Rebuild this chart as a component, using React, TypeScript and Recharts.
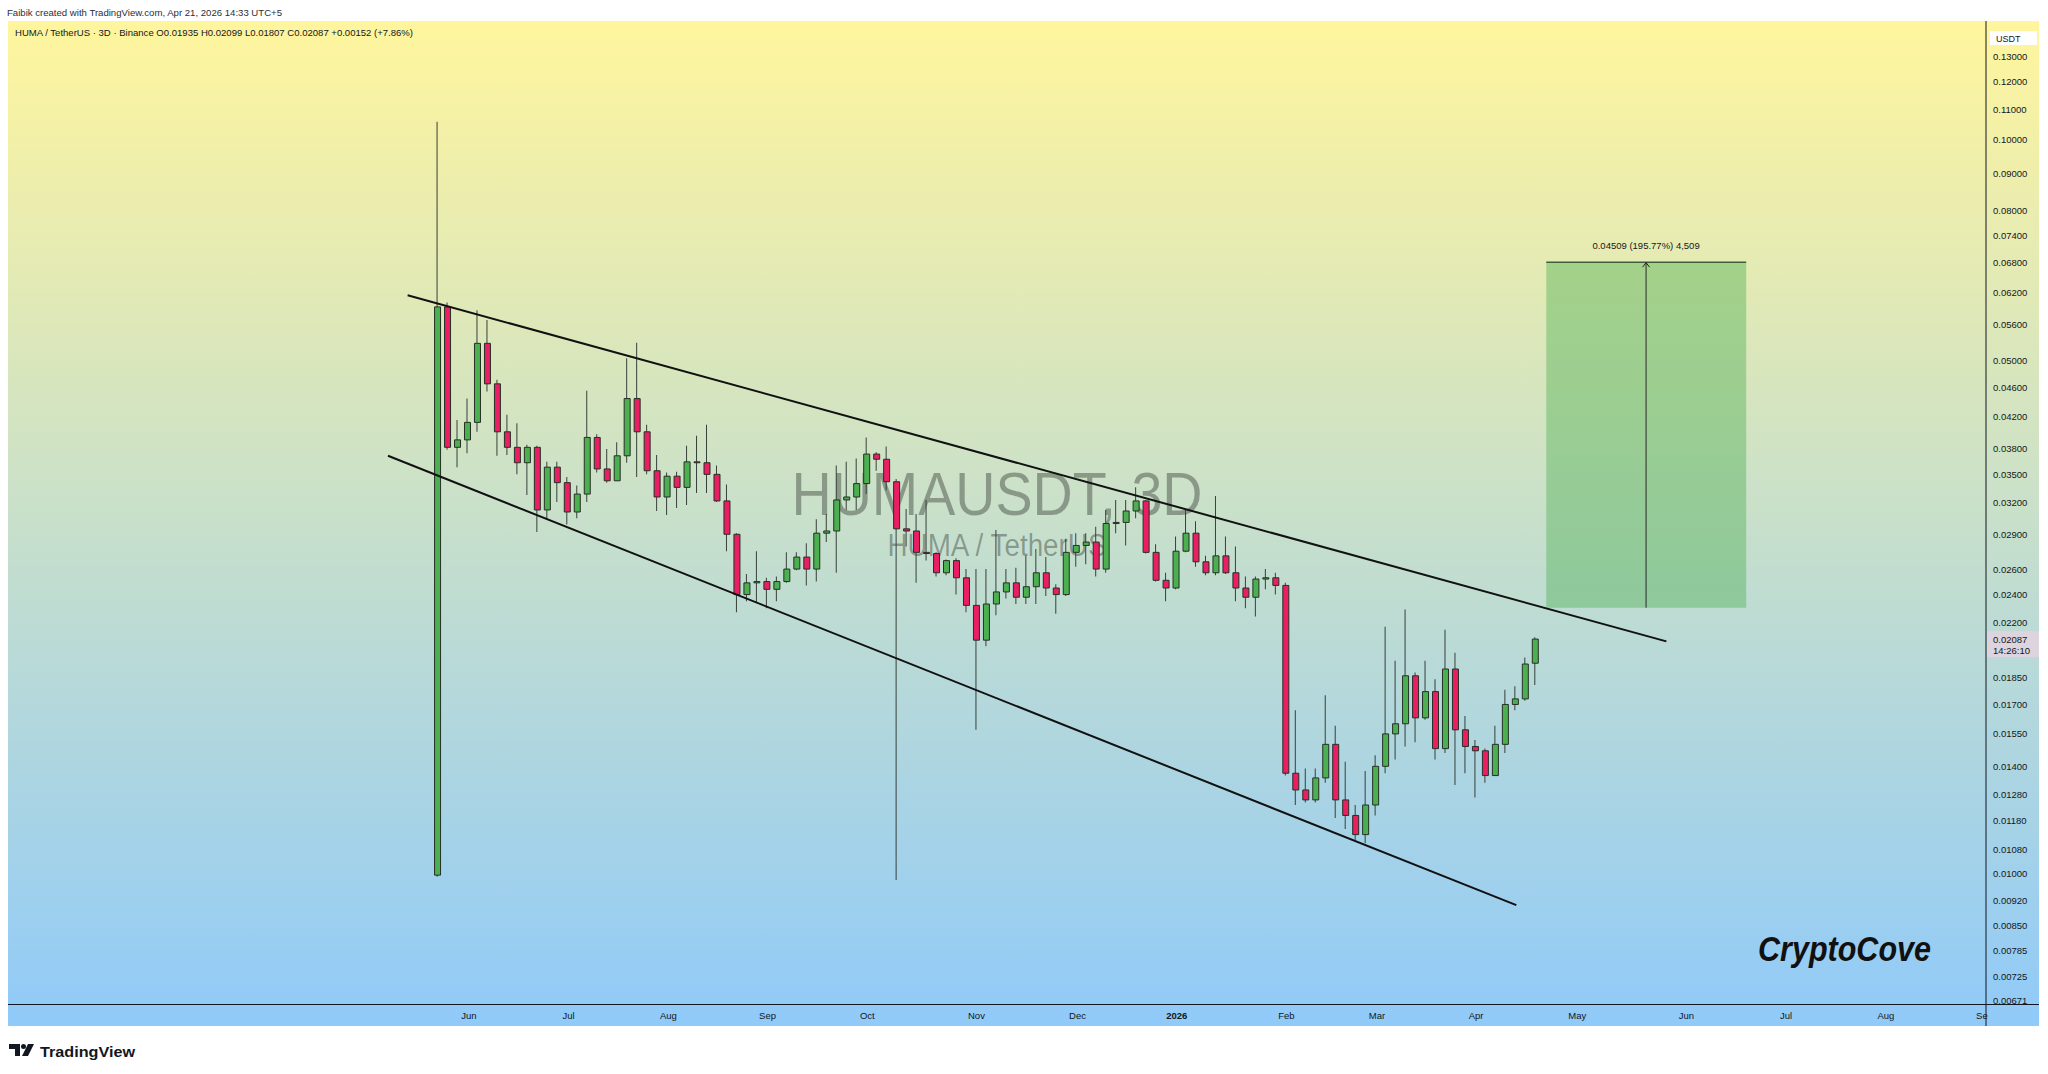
import React from "react";
import {
  ComposedChart,
  Bar,
  XAxis,
  YAxis,
  ReferenceLine,
  ReferenceArea,
  ReferenceDot,
  Cell,
} from "recharts";

const W = 2048;
const H = 1074;
const FONT = "'Liberation Sans', Arial, sans-serif";

// 3D candles, HUMA/USDT (Binance). x = days since 2025-06-01
const FIRST_CANDLE = "2025-05-23";
const STEP_DAYS = 3;

const opens = [
  0.00995, 0.0592, 0.0381, 0.039, 0.0412, 0.0528, 0.0465, 0.04, 0.0381, 0.0363,
  0.0381, 0.0313, 0.0358, 0.0341, 0.0311, 0.0329, 0.0393, 0.0356, 0.0343, 0.0371,
  0.0444, 0.04, 0.0354, 0.0326, 0.0348, 0.0336, 0.0364, 0.0363, 0.035, 0.0322,
  0.029, 0.024, 0.0249, 0.025, 0.0244, 0.025, 0.026, 0.027, 0.026, 0.0291,
  0.0293, 0.0323, 0.0326, 0.034, 0.0373, 0.0367, 0.0342, 0.0295, 0.0293, 0.0274,
  0.0273, 0.0257, 0.0267, 0.0253, 0.0232, 0.0208, 0.0233, 0.0242, 0.0249, 0.0238,
  0.0246, 0.0257, 0.0245, 0.024, 0.0274, 0.028, 0.0283, 0.026, 0.03, 0.0301,
  0.0312, 0.0322, 0.0274, 0.0251, 0.0245, 0.0275, 0.0291, 0.0266, 0.0257, 0.0271,
  0.0257, 0.0245, 0.0238, 0.0252, 0.0253, 0.0247, 0.0137, 0.013, 0.0126, 0.0135,
  0.015, 0.0126, 0.012, 0.0113, 0.0124, 0.014, 0.0155, 0.016, 0.0186, 0.0163,
  0.0177, 0.0148, 0.019, 0.0157, 0.0149, 0.0147, 0.0136, 0.015, 0.017, 0.0173,
  0.01935,
];
const highs = [
  0.1058, 0.06, 0.0415, 0.0444, 0.0586, 0.0568, 0.0471, 0.0422, 0.0411, 0.0384,
  0.0383, 0.0364, 0.0364, 0.0347, 0.0338, 0.0455, 0.0397, 0.0379, 0.0387, 0.0504,
  0.0529, 0.0409, 0.0372, 0.0352, 0.0353, 0.0383, 0.0395, 0.0409, 0.036, 0.0339,
  0.0291, 0.0256, 0.0275, 0.0253, 0.0254, 0.0274, 0.0274, 0.0282, 0.0304, 0.0309,
  0.036, 0.0364, 0.0368, 0.0393, 0.0375, 0.0382, 0.0345, 0.0314, 0.0309, 0.0323,
  0.0274, 0.0268, 0.0269, 0.026, 0.026, 0.026, 0.0294, 0.026, 0.0261, 0.0271,
  0.0277, 0.027, 0.0248, 0.0286, 0.0291, 0.0291, 0.0297, 0.0313, 0.0323, 0.0323,
  0.0336, 0.0323, 0.0281, 0.0257, 0.0288, 0.0313, 0.0302, 0.0271, 0.0327, 0.0288,
  0.0279, 0.0254, 0.0254, 0.026, 0.0257, 0.0249, 0.0167, 0.0139, 0.0139, 0.0175,
  0.0159, 0.0142, 0.0124, 0.0138, 0.0145, 0.0217, 0.0195, 0.0229, 0.0188, 0.0195,
  0.0184, 0.0215, 0.02, 0.0164, 0.0152, 0.0148, 0.0159, 0.0178, 0.018, 0.0197,
  0.02099,
];
const lows = [
  0.0099, 0.0378, 0.0358, 0.0374, 0.04, 0.0454, 0.0371, 0.0372, 0.035, 0.0328,
  0.0292, 0.0304, 0.0321, 0.0299, 0.0305, 0.0321, 0.0352, 0.0341, 0.0343, 0.0363,
  0.0347, 0.035, 0.0312, 0.0308, 0.0315, 0.0318, 0.033, 0.033, 0.0321, 0.0275,
  0.0227, 0.0235, 0.0234, 0.023, 0.0235, 0.0249, 0.0259, 0.0247, 0.025, 0.0283,
  0.0257, 0.0313, 0.0313, 0.0329, 0.0354, 0.0333, 0.0098, 0.0279, 0.0249, 0.0267,
  0.0254, 0.0255, 0.024, 0.0227, 0.0157, 0.0204, 0.0225, 0.0237, 0.0233, 0.0233,
  0.0233, 0.0239, 0.0226, 0.0239, 0.0262, 0.0264, 0.0254, 0.0257, 0.0291, 0.028,
  0.0305, 0.0273, 0.025, 0.0235, 0.0244, 0.0274, 0.0262, 0.0255, 0.0255, 0.0256,
  0.0235, 0.023, 0.0224, 0.0244, 0.024, 0.0136, 0.0124, 0.0125, 0.0125, 0.0133,
  0.0119, 0.0115, 0.0111, 0.011, 0.012, 0.0137, 0.0143, 0.0149, 0.0151, 0.0162,
  0.0143, 0.0146, 0.0132, 0.0137, 0.0127, 0.0133, 0.0136, 0.0146, 0.0167, 0.0172,
  0.01807,
];
const closes = [
  0.0592, 0.0381, 0.039, 0.0412, 0.0528, 0.0465, 0.04, 0.0381, 0.0363, 0.0381,
  0.0313, 0.0358, 0.0341, 0.0311, 0.0329, 0.0393, 0.0356, 0.0343, 0.0371, 0.0444,
  0.04, 0.0354, 0.0326, 0.0348, 0.0336, 0.0364, 0.0363, 0.035, 0.0322, 0.029,
  0.024, 0.0249, 0.025, 0.0244, 0.025, 0.026, 0.027, 0.026, 0.0291, 0.0293,
  0.0323, 0.0326, 0.034, 0.0373, 0.0367, 0.0342, 0.0295, 0.0293, 0.0274, 0.0273,
  0.0257, 0.0267, 0.0253, 0.0232, 0.0208, 0.0233, 0.0242, 0.0249, 0.0238, 0.0246,
  0.0257, 0.0245, 0.024, 0.0274, 0.028, 0.0283, 0.026, 0.03, 0.0301, 0.0312,
  0.0322, 0.0274, 0.0251, 0.0245, 0.0275, 0.0291, 0.0266, 0.0257, 0.0271, 0.0257,
  0.0245, 0.0238, 0.0252, 0.0253, 0.0247, 0.0137, 0.013, 0.0126, 0.0135, 0.015,
  0.0126, 0.012, 0.0113, 0.0124, 0.014, 0.0155, 0.016, 0.0186, 0.0163, 0.0177,
  0.0148, 0.019, 0.0157, 0.0149, 0.0147, 0.0136, 0.015, 0.017, 0.0173, 0.0193,
  0.02087,
];

// time axis label positions (days since 2025-06-01, as placed by the source chart)
const monthTicks = [0.4, 30.4, 60.4, 90.2, 120.2, 153, 183.4, 213.2, 246.2, 273.4, 303.2, 333.6, 366.4, 396.4, 426.4, 456.4];
const monthLabels = ["Jun", "Jul", "Aug", "Sep", "Oct", "Nov", "Dec", "2026", "Feb", "Mar", "Apr", "May", "Jun", "Jul", "Aug", "Se"];

const priceTicks = [
  0.13, 0.12, 0.11, 0.1, 0.09, 0.08, 0.074, 0.068, 0.062, 0.056, 0.05, 0.046, 0.042, 0.038,
  0.035, 0.032, 0.029, 0.026, 0.024, 0.022, 0.0185, 0.017, 0.0155, 0.014, 0.0128, 0.0118,
  0.0108, 0.01, 0.0092, 0.0085, 0.00785, 0.00725, 0.00671,
];

const X_DOMAIN = [-138.13, 456.49];
const Y_DOMAIN = [0.00663, 0.1452];

// drawings (time in days since 2025-06-01, price)
const upperLine = [{ x: -18.0, y: 0.0614 }, { x: 360.4, y: 0.02072 }];
const lowerLine = [{ x: -23.9, y: 0.0371 }, { x: 315.3, y: 0.009055 }];
const target = { x1: 324.3, x2: 384.4, entry: 0.02303, goal: 0.06812, mid: 354.3 };
const targetText = "0.04509 (195.77%) 4,509";
const lastPrice = 0.02087;
const countdown = "14:26:10";

const GREEN = "#4caf50";
const RED = "#e91e63";
const EDGE = "#263026";

const DAY_MS = 86400000;
const ORIGIN = Date.UTC(2025, 5, 1);
const firstDay = (Date.parse(FIRST_CANDLE + "T00:00:00Z") - ORIGIN) / DAY_MS;

const data = opens.map((o, i) => ({
  t: firstDay + i * STEP_DAYS,
  wick: [lows[i], highs[i]],
  body: [Math.min(o, closes[i]), Math.max(o, closes[i])],
  up: closes[i] >= o,
}));

const MonthTick = (props: any) => {
  const { x, payload } = props;
  const idx = monthTicks.indexOf(payload.value);
  const label = monthLabels[idx] ?? "";
  const isLast = idx === monthTicks.length - 1;
  return (
    <text
      x={isLast ? x + 2 : x}
      y={1019}
      textAnchor={isLast ? "end" : "middle"}
      fontSize={9.5}
      fontFamily={FONT}
      fontWeight={label === "2026" ? 700 : 400}
      fill="#131722"
    >
      {label}
    </text>
  );
};

const PriceTick = (props: any) => {
  const { y, payload } = props;
  return (
    <text x={1993} y={y + 3.5} fontSize={9.5} fontFamily={FONT} fill="#131722">
      {Number(payload.value).toFixed(5)}
    </text>
  );
};

const TargetMarker = (props: any) => {
  const { cx, cy } = props;
  return (
    <g>
      <path d={`M${cx - 3.5},${cy + 5} L${cx},${cy + 0.5} L${cx + 3.5},${cy + 5}`} fill="none" stroke="#222" strokeWidth={1} />
      <text x={cx} y={cy - 13} textAnchor="middle" fontSize={9.5} fontFamily={FONT} fill="#131722">
        {targetText}
      </text>
    </g>
  );
};

const LastPriceLabel = (props: any) => {
  const { cx, cy } = props;
  return (
    <g>
      <rect x={cx + 1} y={cy - 8} width={52} height={26} fill="#ddd4de" />
      <text x={cx + 7} y={cy + 3.5} fontSize={9.5} fontFamily={FONT} fill="#131722">
        {lastPrice.toFixed(5)}
      </text>
      <text x={cx + 7} y={cy + 14.5} fontSize={9.5} fontFamily={FONT} fill="#131722">
        {countdown}
      </text>
    </g>
  );
};

export default function App() {
  return (
    <div
      style={{
        position: "absolute",
        left: 0,
        top: 0,
        width: W,
        height: H,
        background: "#ffffff",
        overflow: "hidden",
      }}
    >
      <svg style={{ position: "absolute", left: 0, top: 0 }} width={W} height={H}>
        <defs>
          <linearGradient id="bgGrad" x1="0" y1="0" x2="0" y2="1">
            <stop offset="0" stopColor="#fff59d" />
            <stop offset="1" stopColor="#90caf9" />
          </linearGradient>
        </defs>
        <rect x={8} y={21} width={2031} height={1005} fill="url(#bgGrad)" />
        <text x={997} y={515} textAnchor="middle" fontSize={62} fontFamily={FONT} fill="rgba(0,0,0,0.32)" textLength={411} lengthAdjust="spacingAndGlyphs">
          HUMAUSDT, 3D
        </text>
        <text x={997} y={556} textAnchor="middle" fontSize={31} fontFamily={FONT} fill="rgba(0,0,0,0.32)" textLength={219} lengthAdjust="spacingAndGlyphs">
          HUMA / TetherUS
        </text>
      </svg>

      <div style={{ position: "absolute", left: 0, top: 0 }}>
        <ComposedChart width={W} height={H} data={data} margin={{ top: 21, left: 8, right: 9, bottom: 48 }}>
          <XAxis
            xAxisId="main"
            dataKey="t"
            type="number"
            domain={X_DOMAIN}
            allowDataOverflow
            ticks={monthTicks}
            interval={0}
            tick={<MonthTick />}
            tickLine={false}
            axisLine={false}
            height={21.5}
          />
          <XAxis xAxisId="w" dataKey="t" type="number" domain={X_DOMAIN} allowDataOverflow hide />
          <YAxis
            orientation="right"
            scale="log"
            type="number"
            domain={Y_DOMAIN}
            allowDataOverflow
            ticks={priceTicks}
            interval={0}
            tick={<PriceTick />}
            tickLine={false}
            axisLine={false}
            width={53}
          />

          <ReferenceArea
            xAxisId="main"
            x1={target.x1}
            x2={target.x2}
            y1={target.entry}
            y2={target.goal}
            fill="#4caf50"
            fillOpacity={0.42}
            stroke="none"
            ifOverflow="visible"
          />
          <ReferenceLine
            xAxisId="main"
            segment={[{ x: target.x1, y: target.goal }, { x: target.x2, y: target.goal }]}
            stroke="#3f5f3f"
            strokeWidth={1.5}
            ifOverflow="visible"
          />
          <ReferenceLine
            xAxisId="main"
            segment={[{ x: target.mid, y: target.entry }, { x: target.mid, y: target.goal }]}
            stroke="#2a2a2a"
            strokeWidth={1}
            ifOverflow="visible"
          />

          <Bar xAxisId="w" dataKey="wick" barSize={1} fill="#37403a" isAnimationActive={false} />
          <Bar xAxisId="main" dataKey="body" barSize={6} isAnimationActive={false}>
            {data.map((d, i) => (
              <Cell key={i} fill={d.up ? GREEN : RED} stroke={EDGE} strokeWidth={1} />
            ))}
          </Bar>

          <ReferenceLine xAxisId="main" segment={upperLine} stroke="#111111" strokeWidth={2} ifOverflow="visible" />
          <ReferenceLine xAxisId="main" segment={lowerLine} stroke="#111111" strokeWidth={2} ifOverflow="visible" />

          <ReferenceDot xAxisId="main" x={target.mid} y={target.goal} r={0} ifOverflow="visible" shape={<TargetMarker />} />
          <ReferenceDot xAxisId="main" x={X_DOMAIN[1]} y={lastPrice} r={0} ifOverflow="visible" shape={<LastPriceLabel />} />
        </ComposedChart>
      </div>

      <svg style={{ position: "absolute", left: 0, top: 0, pointerEvents: "none" }} width={W} height={H}>
        <line x1={1986} y1={21} x2={1986} y2={1026} stroke="#131722" strokeWidth={1} />
        <line x1={8} y1={1004.5} x2={2039} y2={1004.5} stroke="#131722" strokeWidth={1} />
        <rect x={1990} y={31} width={47} height={14} fill="#ffffff" />
        <text x={1996} y={41.5} fontSize={9} fontFamily={FONT} fill="#131722">USDT</text>
        <text x={7} y={15.5} fontSize={9.5} fontFamily={FONT} fill="#2a2e39" textLength={275} lengthAdjust="spacingAndGlyphs">
          Faibik created with TradingView.com, Apr 21, 2026 14:33 UTC+5
        </text>
        <text x={15} y={35.5} fontSize={9.5} fontFamily={FONT} fill="#131722" textLength={398} lengthAdjust="spacingAndGlyphs">
          HUMA / TetherUS · 3D · Binance  O0.01935  H0.02099  L0.01807  C0.02087  +0.00152 (+7.86%)
        </text>
        <text x={1758} y={961} fontSize={35} fontWeight={700} fontStyle="italic" fontFamily={FONT} fill="#111111" textLength={173} lengthAdjust="spacingAndGlyphs">
          CryptoCove
        </text>
        <g fill="#131722">
          <path d="M9,1044 h11 v12 h-5 v-7 h-6 z" />
          <circle cx={23.5} cy={1046.5} r={2.5} />
          <path d="M28,1044 h6 l-6,12 h-6 z" />
        </g>
        <text x={40} y={1057} fontSize={15} fontWeight={700} fontFamily={FONT} fill="#131722" textLength={95} lengthAdjust="spacingAndGlyphs">
          TradingView
        </text>
      </svg>
    </div>
  );
}
